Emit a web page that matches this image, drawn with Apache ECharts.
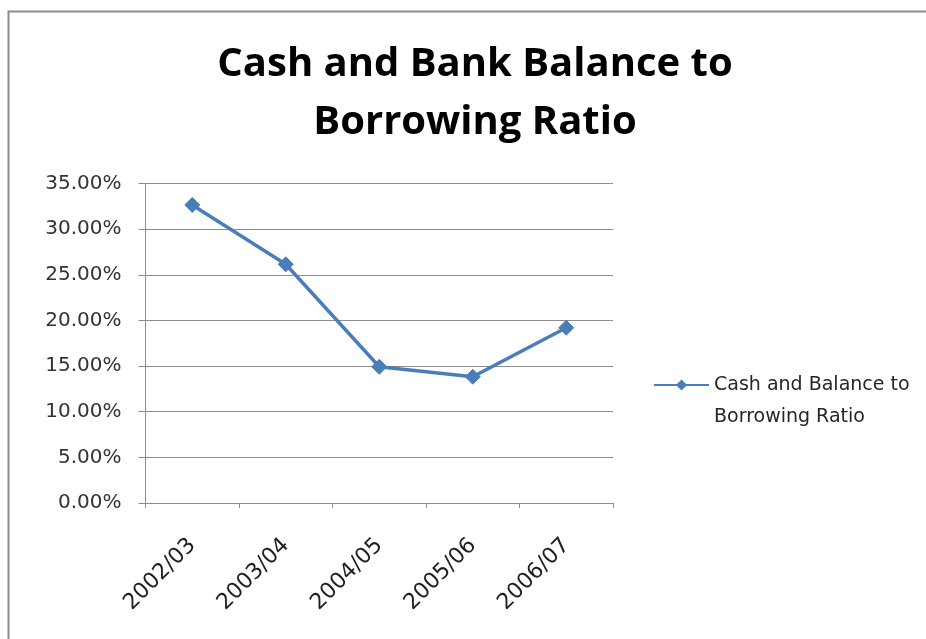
<!DOCTYPE html>
<html>
<head>
<meta charset="utf-8">
<script src="https://cdn.jsdelivr.net/npm/echarts@6/dist/echarts.min.js"></script>
<style>
  html, body { margin: 0; padding: 0; background: #ffffff; }
  #chart { width: 926px; height: 639px; }
</style>
</head>
<body>
<div id="chart"></div>
<script>
// Fiscal years shown along the bottom axis
const categories = ['2002/03', '2003/04', '2004/05', '2005/06', '2006/07'];
// Cash and bank balance to borrowing ratio, in percent
const ratioValues = [32.65, 26.15, 14.92, 13.83, 19.2];
// Value axis ticks, in percent
const yTicks = [0, 5, 10, 15, 20, 25, 30, 35];

const seriesName = 'Cash and Balance to Borrowing Ratio';
const lineColor = '#4A7EBB';
const axisGray = '#8c8c8c';
const titleFont = '"Open Sans", Lato, sans-serif';
const labelFont = '"DejaVu Sans", sans-serif';

const chart = echarts.init(document.getElementById('chart'), null, { renderer: 'canvas' });

chart.setOption({
  backgroundColor: '#ffffff',
  animation: false,
  graphic: [{
    type: 'rect',
    shape: { x: 8.5, y: 11.5, width: 940, height: 660 },
    style: { fill: 'none', stroke: axisGray, lineWidth: 2 },
    silent: true
  }],
  title: {
    text: 'Cash and Bank Balance to\nBorrowing Ratio',
    left: 470,
    textAlign: 'center',
    top: 31,
    textStyle: {
      fontFamily: titleFont,
      fontWeight: 'bold',
      fontSize: 40,
      lineHeight: 58,
      color: '#000000'
    }
  },
  legend: {
    orient: 'vertical',
    left: 648,
    top: 332,
    padding: 5,
    itemWidth: 55,
    itemHeight: 14,
    // leading blank line keeps the first text line level with the legend line
    formatter: () => ' \nCash and Balance to\nBorrowing Ratio',
    textStyle: {
      fontFamily: labelFont,
      fontSize: 19,
      lineHeight: 32,
      color: '#262626'
    },
    data: [seriesName]
  },
  grid: {
    left: 145.5,
    right: 313,
    top: 183.5,
    bottom: 136,
    containLabel: false
  },
  xAxis: {
    type: 'category',
    data: categories,
    boundaryGap: true,
    axisLine: { lineStyle: { color: axisGray, width: 1 } },
    axisTick: { show: true, length: 5, lineStyle: { color: axisGray } },
    axisLabel: {
      rotate: 45,
      margin: 39,
      fontFamily: labelFont,
      fontSize: 22,
      color: '#1f1f1f'
    }
  },
  yAxis: {
    type: 'value',
    min: yTicks[0],
    max: yTicks[yTicks.length - 1],
    interval: yTicks[1] - yTicks[0],
    axisLine: { show: true, lineStyle: { color: axisGray, width: 1 } },
    axisTick: { show: true, length: 7, lineStyle: { color: axisGray } },
    splitLine: { show: true, lineStyle: { color: axisGray, width: 1 } },
    axisLabel: {
      margin: 24,
      fontFamily: labelFont,
      fontSize: 20,
      color: '#333333',
      formatter: v => v.toFixed(2) + '%'
    }
  },
  series: [{
    name: seriesName,
    type: 'line',
    data: ratioValues,
    symbol: 'diamond',
    symbolSize: 15,
    showAllSymbol: true,
    lineStyle: { color: lineColor, width: 3.5 },
    itemStyle: { color: lineColor, borderColor: lineColor },
    emphasis: { disabled: true }
  }]
});
</script>
</body>
</html>
